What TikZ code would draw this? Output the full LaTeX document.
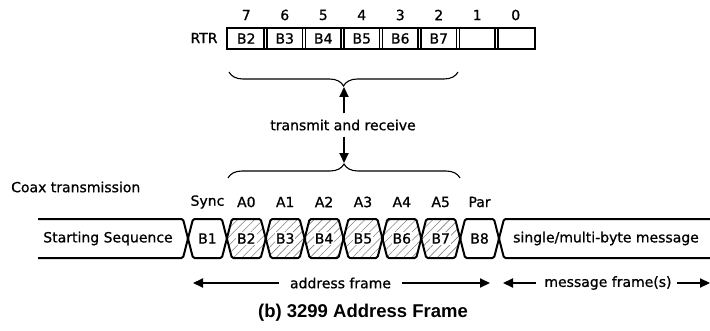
\documentclass[tikz,border=0pt]{standalone}
\usepackage{fontspec}
\setmainfont{DejaVu Sans}[FakeBold=0.9]
\newfontfamily\capfont{Liberation Sans}
\usetikzlibrary{arrows.meta,decorations.pathreplacing,patterns.meta,calc}
\begin{document}
\begin{tikzpicture}[x=1pt,y=1pt,
  lbl/.style={font=\fontsize{14}{16}\selectfont, inner sep=0pt},
  band/.style={line width=2pt, line join=round, rounded corners=1.5pt},
  hatchfill/.style={pattern={Lines[angle=45,distance=6pt,line width=0.6pt]}, pattern color=gray},
  arr/.style={line width=2.2pt, -{Triangle[length=10pt,width=9pt]}},
  brc/.style={decorate, decoration={brace, amplitude=14pt}, line width=1.1pt}
]
\useasboundingbox (0,0) rectangle (710,330);

% ---------- register ----------
\node[lbl] (rtr) at (204,292) {RTR};
\draw[line width=2pt] (227,281) rectangle (535,302);
\foreach \k in {1,...,7}{
  \draw[line width=1.1pt] ({227+38.5*\k-1.5},281) -- ++(0,21);
  \draw[line width=1.1pt] ({227+38.5*\k+1.5},281) -- ++(0,21);
}
\foreach \b [count=\i from 0] in {7,6,5,4,3,2,1,0}
  \node[lbl] (bit\b) at ({227+38.5*\i+19.25},315) {\b};
\foreach \t [count=\i from 0] in {B2,B3,B4,B5,B6,B7}
  \node[lbl] (r\t) at ({227+38.5*\i+19.25},291.5) {\t};

% ---------- braces and arrows ----------
\draw[brc] (458,258) -- (229,258);
\draw[brc] (228,152) -- (460,152);
\coordinate (cusptop) at (344,243);
\coordinate (cuspbot) at (344,167);
\node[lbl] (tr) at (343,205) {transmit and receive};
\draw[arr] ([xshift=1pt,yshift=6pt]tr.north) -- (cusptop);
\draw[arr] ([xshift=1pt,yshift=-6pt]tr.south) -- (cuspbot);

% ---------- coax band ----------
\node[lbl, anchor=west] (coax) at (11,143) {Coax transmission};

\draw[band] (38,111) -- (183,111) -- (188,91.5) -- (183,72) -- (38,72);
\draw[band] (712,111) -- (504,111) -- (499,91.5) -- (504,72) -- (712,72);

\foreach \i in {0,...,7}{
  \pgfmathsetmacro\xa{188+38.875*\i}
  \pgfmathsetmacro\xb{188+38.875*(\i+1)}
  \ifnum\i>0 \ifnum\i<7
    \fill[hatchfill] (\xa,91.5) -- (\xa+5,111) -- (\xb-5,111) -- (\xb,91.5) -- (\xb-5,72) -- (\xa+5,72) -- cycle;
  \fi\fi
  \draw[band] (\xa,91.5) -- (\xa+5,111) -- (\xb-5,111) -- (\xb,91.5) -- (\xb-5,72) -- (\xa+5,72) -- cycle;
}

\node[lbl] (ss) at (108,91.5) {Starting Sequence};
\node[lbl, anchor=west] (msg) at (513,91.5) {single/multi-byte message};

\foreach \t [count=\i from 0] in {Sync,A0,A1,A2,A3,A4,A5,Par}
  \node[lbl] (h\t) at ({188+38.875*\i+19.44},128) {\t};
\foreach \t [count=\i from 0] in {B1,B2,B3,B4,B5,B6,B7,B8}
  \node[lbl, fill=white, inner sep=1pt] (c\t) at ({188+38.875*\i+19.44},91.5) {\t};

% ---------- frame arrows ----------
\node[lbl] (af) at (340.5,47) {address frame};
\node[lbl] (mf) at (608,47) {message frame(s)};
\coordinate (afL) at (193,47);
\coordinate (afR) at (490,47);
\coordinate (mfL) at (503,47);
\coordinate (mfR) at (710,47);
\draw[arr] ([xshift=-11pt]af.west) -- (afL);
\draw[arr] ([xshift=11pt]af.east) -- (afR);
\draw[arr] ([xshift=-8pt]mf.west) -- (mfL);
\draw[arr] ([xshift=5pt]mf.east) -- (mfR);

% ---------- caption ----------
\node[font=\capfont\bfseries\fontsize{18.5}{21}\selectfont, inner sep=0pt] (cap) at (363,17) {(b) 3299 Address Frame};
\end{tikzpicture}
\end{document}
